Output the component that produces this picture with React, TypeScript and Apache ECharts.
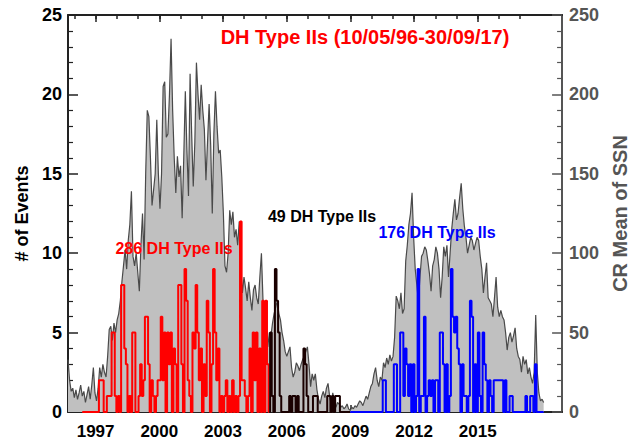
import { useEffect, useRef } from "react";
import * as echarts from "echarts";

// Carrington-rotation time base (years)
const CR_START_YEAR = 1995.7;
const CR_LENGTH_YEARS = 0.074675;

// CR mean sunspot number, one value per Carrington rotation starting at CR_START_YEAR
const ssnValues = [
  33, 20, 13, 15, 9, 14, 8, 12, 17, 10,
  13, 6, 11, 16, 8, 17, 28, 12, 7, 15,
  28, 22, 30, 25, 22, 35, 52, 54, 45, 56,
  50, 58, 62, 70, 82, 92, 102, 90, 108, 118,
  139, 98, 92, 100, 88, 76, 105, 125, 96, 150,
  190, 186, 160, 130, 140, 150, 184, 150, 128, 150,
  205, 208, 173, 175, 200, 235, 190, 160, 138, 161,
  148, 155, 122, 160, 202, 165, 136, 213, 175, 142,
  170, 220, 200, 184, 206, 190, 178, 146, 170, 194,
  168, 125, 175, 202, 180, 163, 165, 148, 125, 92,
  88, 100, 127, 118, 126, 110, 115, 105, 120, 90,
  75, 85, 78, 70, 82, 72, 64, 77, 80, 72,
  68, 85, 100, 70, 52, 55, 41, 50, 48, 56,
  62, 66, 70, 62, 58, 50, 45, 38, 35, 38,
  41, 28, 22, 25, 31, 29, 26, 30, 33, 35,
  38, 41, 30, 16, 24, 20, 24, 14, 8, 5,
  10, 13, 9, 15, 18, 10, 5, 12, 7, 3,
  6, 5, 3, 4, 2, 3, 5, 2, 1, 3,
  2, 4, 3, 5, 7, 6, 4, 7, 10, 8,
  12, 16, 18, 24, 28, 20, 16, 22, 20, 31,
  28, 34, 30, 36, 32, 35, 47, 73, 70, 65,
  75, 62, 65, 95, 105, 118, 125, 138, 110, 90,
  80, 70, 85, 98, 100, 104, 102, 95, 87, 76,
  92, 96, 104, 100, 90, 72, 85, 104, 98, 105,
  85, 100, 115, 125, 134, 121, 125, 135, 144, 128,
  117, 110, 100, 105, 110, 108, 102, 106, 110, 108,
  98, 90, 75, 85, 94, 72, 70, 68, 60, 72,
  85, 66, 60, 64, 60, 58, 50, 39, 47, 50,
  44, 48, 53, 40, 35, 33, 25, 35, 30, 33,
  24, 28, 22, 18, 25, 61, 25, 12, 7, 8,
  6,
];

// DH type II counts per CR (cycle 23 rise/max: red)
const redStartIndex = 9;
const redEvents = [
  0, 0, 0, 0, 0, 0, 0, 0, 0, 0, 0,
  2, 2, 2, 0, 0, 1, 1, 1, 5, 5,
  1, 0, 1, 0, 8, 8, 4, 3, 0, 1,
  0, 5, 5, 0, 0, 1, 3, 1, 2, 6, 6,
  3, 0, 2, 1, 0, 1, 2, 2, 6,
  2, 5, 0, 5, 3, 5, 0, 4, 3, 0,
  8, 8, 3, 0, 9, 7, 2, 1, 0, 5, 4,
  8, 5, 2, 4, 0, 3, 1, 7, 5, 0, 3,
  9, 5, 2, 4, 0, 1,
  0, 1, 2, 0, 1, 0, 2, 0, 1, 0, 1,
  12, 2, 2, 1, 0, 1,
  4, 0, 5, 2, 5, 0, 4, 0, 7, 0, 7, 3, 0,
];

// declining phase (black)
const blackStartIndex = 127;
const blackEvents = [
  0, 5, 1, 0, 9, 7, 5, 1, 0, 0,
  0, 0, 0, 1, 0, 1, 1, 0, 1, 0,
  0, 0, 4, 3, 1, 0, 0, 0, 1, 1,
  1, 0, 0, 0, 0, 0, 0, 1, 1, 0,
  1, 0, 1, 1, 1, 0, 0, 0, 0, 0,
  0, 0,
];

// cycle 24 (blue)
const blueStartIndex = 178;
const blueEvents = [
  0, 0, 0, 0, 0, 0, 0, 0, 0, 0, 0, 0, 0, 0, 0, 0, 0, 0, 0, 0, 0,
  2, 2, 0, 0, 0, 0, 0, 3, 3, 0, 0, 5, 5,
  1, 4, 3, 1, 3, 0, 3, 0, 1,
  9, 0, 1, 1, 6, 0, 1, 2, 1, 2, 0,
  2, 2, 0, 5, 5, 3, 0, 3, 0, 1,
  9, 6, 5, 6, 4, 3, 0, 3, 1, 1,
  0, 1, 7, 6, 0, 3, 0,
  5, 1, 0, 5, 3, 2, 0, 2, 1, 0,
  2, 2, 2, 2, 2, 2,
  0, 2, 0, 0, 1, 1,
  0, 0, 0, 0, 0, 0, 0, 0,
  1, 0, 0, 1, 1, 0, 3, 0,
  0, 0, 0, 0,
];

const majorYears = [1997, 2000, 2003, 2006, 2009, 2012, 2015];
const minorYears = [
  1996, 1997, 1998, 1999, 2000, 2001, 2002, 2003, 2004, 2005, 2006,
  2007, 2008, 2009, 2010, 2011, 2012, 2013, 2014, 2015, 2016, 2017,
];
const X_MIN = 1995.7;
const X_MAX = 2018.97;

const FONT = '"Liberation Sans", Arial, Helvetica, sans-serif';

function crYear(i: number) {
  return CR_START_YEAR + i * CR_LENGTH_YEARS;
}

function toSeries(start: number, values: number[]) {
  return values.map((v, k) => [crYear(start + k), v]);
}

export default function App() {
  const ref = useRef<HTMLDivElement>(null);

  useEffect(() => {
    if (!ref.current) return;
    const chart = echarts.init(ref.current, null, { renderer: "svg" });

    const axisColor = "#222";
    const xBase = (position: "top" | "bottom", ticks: number[], len: number, showLine: boolean, labels: boolean) => ({
      type: "value",
      position,
      min: X_MIN,
      max: X_MAX,
      axisLine: { show: showLine, onZero: false, lineStyle: { color: axisColor, width: 2 } },
      axisTick: {
        show: true,
        inside: true,
        length: len,
        customValues: ticks,
        lineStyle: { color: axisColor, width: 1.5 },
      },
      axisLabel: labels
        ? {
            show: true,
            customValues: majorYears,
            formatter: (v: number) => String(Math.round(v)),
            fontFamily: FONT,
            fontWeight: "bold",
            fontSize: 17,
            color: "#000",
            margin: 11,
          }
        : { show: false },
      splitLine: { show: false },
    });

    chart.setOption({
      animation: false,
      grid: { left: 68, right: 70, top: 15, bottom: 29, containLabel: false },
      xAxis: [
        xBase("bottom", majorYears, 7, true, true),
        xBase("bottom", minorYears, 4, false, false),
        xBase("top", majorYears, 7, true, false),
        xBase("top", minorYears, 4, false, false),
      ],
      yAxis: [
        {
          type: "value",
          position: "left",
          min: 0,
          max: 25,
          interval: 5,
          axisLine: { show: true, lineStyle: { color: axisColor, width: 2 } },
          axisTick: { show: true, inside: true, length: 10, lineStyle: { color: axisColor, width: 1.5 } },
          minorTick: { show: true, splitNumber: 5, length: 5, lineStyle: { color: axisColor, width: 1.2 } },
          axisLabel: { fontFamily: FONT, fontWeight: "bold", fontSize: 18, color: "#000", margin: 6 },
          splitLine: { show: false },
          minorSplitLine: { show: false },
          name: "# of Events",
          nameLocation: "middle",
          nameRotate: 90,
          nameGap: 35,
          nameTextStyle: { fontFamily: FONT, fontWeight: "bold", fontSize: 18, color: "#000" },
        },
        {
          type: "value",
          position: "right",
          min: 0,
          max: 250,
          interval: 50,
          axisLine: { show: true, lineStyle: { color: "#555", width: 2 } },
          axisTick: { show: true, inside: true, length: 10, lineStyle: { color: "#555", width: 1.5 } },
          minorTick: { show: true, splitNumber: 5, length: 5, lineStyle: { color: "#555", width: 1.2 } },
          axisLabel: { fontFamily: FONT, fontWeight: "bold", fontSize: 18, color: "#555", margin: 7 },
          splitLine: { show: false },
          minorSplitLine: { show: false },
          name: "CR Mean of SSN",
          nameLocation: "middle",
          nameRotate: 90,
          nameGap: 44,
          nameTextStyle: { fontFamily: FONT, fontWeight: "bold", fontSize: 20, color: "#555" },
        },
      ],
      series: [
        {
          type: "line",
          xAxisIndex: 0,
          yAxisIndex: 1,
          data: toSeries(0, ssnValues),
          symbol: "none",
          lineStyle: { color: "#4a4a4a", width: 1.2 },
          areaStyle: { color: "#c0c0c0", opacity: 1 },
          z: 1,
          silent: true,
        },
        {
          type: "line",
          xAxisIndex: 0,
          yAxisIndex: 0,
          step: "middle",
          data: toSeries(redStartIndex, redEvents),
          symbol: "none",
          lineStyle: { color: "#ff0000", width: 2 },
          z: 3,
          silent: true,
        },
        {
          type: "line",
          xAxisIndex: 0,
          yAxisIndex: 0,
          step: "middle",
          data: toSeries(blackStartIndex, blackEvents),
          symbol: "none",
          lineStyle: { color: "#1a0000", width: 2 },
          z: 4,
          silent: true,
        },
        {
          type: "line",
          xAxisIndex: 0,
          yAxisIndex: 0,
          step: "middle",
          data: toSeries(blueStartIndex, blueEvents),
          symbol: "none",
          lineStyle: { color: "#0000ff", width: 2 },
          z: 4,
          silent: true,
        },
      ],
      graphic: [
        {
          type: "text",
          x: 365,
          y: 37,
          z: 100,
          style: {
            text: "DH Type IIs (10/05/96-30/09/17)",
            fill: "#ff0000",
            font: `bold 20px ${FONT}`,
            align: "center",
            verticalAlign: "middle",
          },
        },
        {
          type: "text",
          x: 174,
          y: 248,
          z: 100,
          style: {
            text: "286 DH Type IIs",
            fill: "#ff0000",
            font: `bold 16px ${FONT}`,
            align: "center",
            verticalAlign: "middle",
          },
        },
        {
          type: "text",
          x: 322,
          y: 216,
          z: 100,
          style: {
            text: "49 DH Type IIs",
            fill: "#000",
            font: `bold 16px ${FONT}`,
            align: "center",
            verticalAlign: "middle",
          },
        },
        {
          type: "text",
          x: 437,
          y: 232,
          z: 100,
          style: {
            text: "176 DH Type IIs",
            fill: "#0000ff",
            font: `bold 16px ${FONT}`,
            align: "center",
            verticalAlign: "middle",
          },
        },
      ],
    });

    return () => chart.dispose();
  }, []);

  return (
    <div
      ref={ref}
      style={{ position: "absolute", left: 0, top: 0, width: 638, height: 441, background: "#fff" }}
    />
  );
}
